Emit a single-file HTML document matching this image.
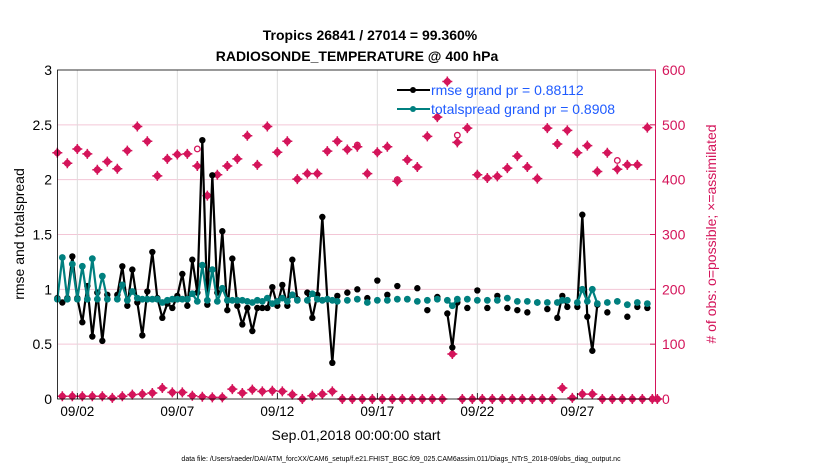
<!DOCTYPE html>
<html><head><meta charset="utf-8">
<style>
html,body{margin:0;padding:0;background:#fff;}
svg{display:block;font-family:"Liberation Sans",sans-serif;}
</style></head>
<body>
<svg id="chart" width="830" height="470" viewBox="0 0 830 470" xmlns="http://www.w3.org/2000/svg">
<text x="370" y="40" text-anchor="middle" font-size="14" font-weight="bold">Tropics 26841 / 27014 = 99.360%</text>
<text x="357" y="61" text-anchor="middle" font-size="14" font-weight="bold">RADIOSONDE_TEMPERATURE @ 400 hPa</text>
<g id="grid"></g>
<g id="marks"></g>
<rect x="57.5" y="70" width="598" height="329" fill="none" stroke="#000" stroke-width="0.8"/>
<line x1="655.5" y1="70" x2="655.5" y2="399" stroke="#d4145a" stroke-width="1"/>
<g id="axes"></g>
<text transform="translate(24,234) rotate(-90)" text-anchor="middle" font-size="14">rmse and totalspread</text>
<text transform="translate(716,234) rotate(-90)" text-anchor="middle" font-size="14" fill="#d4145a"># of obs: o=possible; ×=assimilated</text>
<text x="356" y="440" text-anchor="middle" font-size="14">Sep.01,2018 00:00:00 start</text>
<text x="401" y="461" text-anchor="middle" font-size="7">data file: /Users/raeder/DAI/ATM_forcXX/CAM6_setup/f.e21.FHIST_BGC.f09_025.CAM6assim.011/Diags_NTrS_2018-09/obs_diag_output.nc</text>
<g>
<line x1="397" y1="90" x2="430" y2="90" stroke="#000" stroke-width="2"/>
<circle cx="413" cy="90" r="3" fill="#000"/>
<text x="431" y="95" font-size="14" fill="#1f5bff">rmse grand pr = 0.88112</text>
<line x1="397" y1="109" x2="430" y2="109" stroke="#008080" stroke-width="2"/>
<circle cx="413" cy="109" r="3" fill="#008080"/>
<text x="431" y="114" font-size="14" fill="#1f5bff">totalspread grand pr = 0.8908</text>
</g>
</svg>
<script>
const N = null;
const rmse = [.92,.88,.92,1.30,.92,.70,1.03,.57,.97,.53,.95,N,.95,1.21,.85,1.18,.88,.58,.98,1.34,.92,.74,.87,.83,.94,1.14,.85,1.27,.97,2.36,.86,2.04,.97,1.53,.81,1.28,.85,.68,.83,.62,.83,.83,.83,1.02,.85,1.04,.85,1.27,.91,N,.97,.74,.95,1.66,.91,.33,.94,N,.97,N,
1.00,N,.92,N,1.08,N,.95,N,1.03,N,.91,N,1.01,N,.81,N,.93,N,.78,.47,.88,N,.83,N,.99,N,.83,N,.94,N,.83,N,.81,N,.79,N,.88,N,.82,N,.74,.94,.84,N,.84,1.68,.75,.44,.86,N,.79,N,.89,N,.75,N,.84,N,.83,N,N];
const spread = [.91,1.29,.91,1.23,.91,1.21,.91,1.28,.91,1.12,.91,N,.91,1.04,.90,.98,.92,.91,.91,.91,.91,.88,.90,.91,.91,.91,.91,.96,.89,1.22,.90,1.18,.89,1.01,.90,.90,.90,.90,.89,.88,.90,.89,.92,.87,.89,.92,.89,.95,.90,N,.90,.96,.91,.90,.91,.90,.89,N,.90,N,
.91,N,.88,N,.90,N,.90,N,.91,N,.91,N,.89,N,.90,N,.91,N,.90,.85,.91,N,.91,N,.90,N,.90,N,.90,N,.92,N,.89,N,.89,N,.88,N,.88,N,.88,.90,.90,N,.88,1.00,.89,1.00,.87,N,.88,N,.89,N,.86,N,.88,N,.87,N,N];
const assimilated = [449,5,430,5,456,5,447,5,418,5,433,2,420,5,453,8,497,9,470,11,407,20,438,12,446,12,447,6,425,4,371,3,409,3,425,18,438,11,480,17,427,14,497,15,450,14,470,8,401,0,411,6,411,9,452,14,470,0,455,0,
460,0,411,0,450,0,460,0,397,0,436,0,423,0,479,0,514,0,579,82,468,0,494,0,409,0,403,0,406,0,421,0,443,0,423,0,402,0,494,0,465,20,490,2,449,9,462,9,415,0,449,0,419,0,427,0,427,0,495,0,0];
const possible = assimilated.map(v=>v);
possible[28]=456; possible[80]=481; possible[112]=435; possible[60]=463; possible[68]=400;
const dayTicks = [1,6,11,16,21,26];
const dayLabels = ["09/02","09/07","09/12","09/17","09/22","09/27"];
const leftTicks = [0,0.5,1,1.5,2,2.5,3];
const leftLabels = ["0","0.5","1","1.5","2","2.5","3"];
const rightTicks = [0,100,200,300,400,500,600];

const X0=57.33, DAY=20, YB=399, YT=70;
const xStep = i => X0 + i*DAY/4;
const xDay = d => X0 + d*DAY;
const yL = v => YB - v*(YB-YT)/3;
const yR = v => YB - v*(YB-YT)/600;
const NS="http://www.w3.org/2000/svg";
function mk(tag, attrs, parent){const e=document.createElementNS(NS,tag);for(const k in attrs)e.setAttribute(k,attrs[k]);parent.appendChild(e);return e;}
const grid=document.getElementById('grid'), marks=document.getElementById('marks'), axes=document.getElementById('axes');

rightTicks.forEach((t,k)=>{
  if(t===0||t===600) return;
  const l=mk('line',{x1:57.5,x2:655.5,y1:yR(t),y2:yR(t),stroke:'#f3c6d6','stroke-width':1},grid);
  
  
});
dayTicks.forEach((d,k)=>{
  const l=mk('line',{x1:xDay(d),x2:xDay(d),y1:70,y2:399,stroke:'#dcdcdc','stroke-width':1},grid);
  
  
  const t=mk('text',{x:xDay(d),y:416,'text-anchor':'middle','font-size':13.5},axes);
  t.textContent=dayLabels[k];
  
  
  const tk=mk('line',{x1:xDay(d),x2:xDay(d),y1:399,y2:393,stroke:'#000','stroke-width':0.8},axes);
  
  
});
leftTicks.forEach((v,k)=>{
  const t=mk('text',{x:52,y:yL(v)+5,'text-anchor':'end','font-size':14},axes);
  t.textContent=leftLabels[k];
  
  
});
rightTicks.forEach(v=>{
  const t=mk('text',{x:662,y:yR(v)+5,'text-anchor':'start','font-size':14,fill:'#d4145a'},axes);
  t.textContent=String(v);
  
  
  const tk=mk('line',{x1:655.5,x2:650,y1:yR(v),y2:yR(v),stroke:'#d4145a','stroke-width':1},axes);
  
  
});

// obs counts
possible.forEach((v,i)=>{
  if(v===N) return;
  const c=mk('circle',{cx:xStep(i),cy:yR(v),r:2.8,fill:'none',stroke:'#d4145a','stroke-width':1.3},marks);
  
  
});
assimilated.forEach((v,i)=>{
  if(v===N) return;
  const x=xStep(i), y=yR(v);
  const p=mk('path',{d:`M${x-4.5},${y}L${x},${y-4.5}L${x+4.5},${y}L${x},${y+4.5}Z`,fill:'#d4145a'},marks);
  
  
  const q=mk('path',{d:`M${x-5},${y}H${x+5}M${x},${y-5}V${y+5}`,stroke:'#d4145a','stroke-width':1.5},marks);
  
  
});

function series(arr,color,name,r){
  let d='';
  for(let i=1;i<arr.length;i++){
    if(arr[i]!==N && arr[i-1]!==N) d+=`M${xStep(i-1)},${yL(arr[i-1])}L${xStep(i)},${yL(arr[i])}`;
  }
  const p=mk('path',{d:d,stroke:color,'stroke-width':2.2,fill:'none','stroke-linejoin':'round'},marks);
  
  
  arr.forEach((v,i)=>{
    if(v===N) return;
    const c=mk('circle',{cx:xStep(i),cy:yL(v),r:r,fill:color},marks);
    
    
  });
}
series(rmse,'#000','rmse',3.2);
series(spread,'#00807f','totalspread',3.4);
</script>
</body></html>
